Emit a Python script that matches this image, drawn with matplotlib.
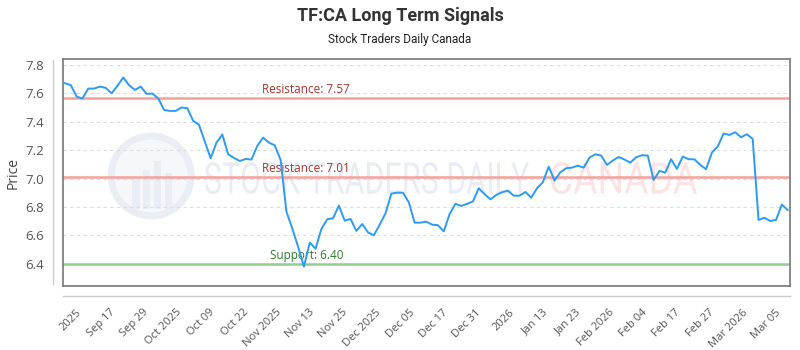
import matplotlib.pyplot as plt
import numpy as np
from matplotlib.lines import Line2D
from matplotlib.patches import Ellipse, Rectangle, PathPatch
from matplotlib.textpath import TextPath
from matplotlib.font_manager import FontProperties
from matplotlib.transforms import Affine2D

prices = [7.671, 7.657, 7.577, 7.563, 7.633, 7.633, 7.647, 7.638, 7.600, 7.652,
          7.711, 7.657, 7.624, 7.647, 7.596, 7.598, 7.565, 7.483, 7.476, 7.476,
          7.500, 7.495, 7.406, 7.378, 7.260, 7.143, 7.253, 7.310, 7.171, 7.145,
          7.124, 7.138, 7.134, 7.230, 7.288, 7.253, 7.234, 7.131, 6.768, 6.650,
          6.521, 6.381, 6.550, 6.507, 6.646, 6.714, 6.721, 6.810, 6.704, 6.716,
          6.632, 6.681, 6.622, 6.601, 6.676, 6.756, 6.894, 6.901, 6.901, 6.833,
          6.690, 6.690, 6.697, 6.676, 6.672, 6.629, 6.751, 6.822, 6.808, 6.822,
          6.840, 6.932, 6.890, 6.854, 6.885, 6.904, 6.915, 6.880, 6.880, 6.906,
          6.866, 6.932, 6.975, 7.084, 6.986, 7.044, 7.073, 7.077, 7.091, 7.077,
          7.148, 7.171, 7.162, 7.096, 7.127, 7.152, 7.134, 7.112, 7.150, 7.164,
          7.162, 6.990, 7.054, 7.042, 7.136, 7.068, 7.155, 7.136, 7.136, 7.096,
          7.066, 7.183, 7.225, 7.317, 7.307, 7.326, 7.291, 7.312, 7.279, 6.709,
          6.725, 6.702, 6.709, 6.817, 6.779]

tick_labels = ['2025', 'Sep 17', 'Sep 29', 'Oct 2025', 'Oct 09', 'Oct 22',
               'Nov 2025', 'Nov 13', 'Nov 25', 'Dec 2025', 'Dec 05', 'Dec 17',
               'Dec 31', '2026', 'Jan 13', 'Jan 23', 'Feb 2026', 'Feb 04',
               'Feb 17', 'Feb 27', 'Mar 2026', 'Mar 05']
tick_pos = np.linspace(2.6, 122.5, len(tick_labels))

resistance = [7.57, 7.01]
support = 6.40

plt.rcParams['font.family'] = ['Open Sans', 'DejaVu Sans']

fig = plt.figure(figsize=(8, 3.5), dpi=100)
ax = fig.add_axes([0.079, 0.183, 0.9085, 0.648])

x = np.arange(len(prices))


def squeezed_text(s, x0, x1, y0, y1, color):
    # text drawn as a path and stretched to fit a pixel box (condensed look)
    tp = TextPath((0, 0), s, size=40, prop=FontProperties(family='Roboto'))
    ext = tp.get_extents()
    sx = (x1 - x0) / ext.width
    sy = (y1 - y0) / ext.height
    tr = Affine2D().translate(-ext.x0, -ext.y0).scale(sx, sy).translate(x0, 350 - y1)
    ax.add_patch(PathPatch(tp, transform=tr, facecolor=color, edgecolor='none', zorder=0))


# faint watermark: logo circle + text
aw, ah = 727.0, 227.0
ax.add_patch(Ellipse((0.121, 0.485), 2 * 40 / aw, 2 * 40 / ah, transform=ax.transAxes,
                     facecolor='#f5f7fb', edgecolor='#e9edf4', lw=5, zorder=0))
for bx, bh in [(0.1, 0.13), (0.115, 0.17), (0.13, 0.21), (0.145, 0.16)]:
    ax.add_patch(Rectangle((bx - 0.005, 0.34), 0.01, bh, transform=ax.transAxes,
                           facecolor='#e9edf4', edgecolor='none', zorder=0))
squeezed_text('STOCK TRADERS DAILY', 205, 529, 162, 194, '#e9edf3')
squeezed_text('CANADA', 551, 697, 162, 194, '#fde4e4')

for r in resistance:
    ax.axhline(r, color='#f4a19b', lw=1.8, zorder=2)
    ax.text(33.8, r + 0.012, 'Resistance: %.2f' % r, color='#a8352c', fontsize=8.5,
            ha='left', va='bottom', zorder=3)
ax.axhline(support, color='#8fcf8f', lw=1.8, zorder=2)
ax.text(35.2, support + 0.012, 'Support: %.2f' % support, color='#2f7a2f',
        fontsize=8.5, ha='left', va='bottom', zorder=3)

ax.plot(x, prices, color='#2b9bf4', lw=1.4, zorder=4)

yt = [6.4, 6.6, 6.8, 7.0, 7.2, 7.4, 7.6, 7.8]
ax.set_xlim(-0.3, 124.4)
ax.set_ylim(6.245, 7.84)
ax.set_yticks(yt)
ax.set_yticklabels(['%.1f' % v for v in yt])
ax.set_xticks(tick_pos)
ax.set_xticklabels(tick_labels, rotation=45, ha='right', va='center',
                   rotation_mode='anchor')
ax.grid(axis='y', color='#dddddd', ls=(0, (3, 3)), lw=0.8)
ax.tick_params(axis='y', length=0, pad=14, labelsize=9.5, labelcolor='#555555')
ax.tick_params(axis='x', length=0, pad=18, labelsize=8, labelcolor='#555555')
for s in ax.spines.values():
    s.set_color('#777777')
    s.set_linewidth(1.2)
ax.set_ylabel('Price', fontsize=10, color='#444444', labelpad=3)

fig.add_artist(Line2D([53 / 800, 53 / 800], [1 - 60 / 350, 1 - 284 / 350],
                      color='#cccccc', lw=1))
fig.add_artist(Line2D([63 / 800, 790 / 800], [1 - 296 / 350, 1 - 296 / 350],
                      color='#cccccc', lw=1))

fig.text(0.5, 1 - 16 / 350, 'TF:CA Long Term Signals', ha='center', va='center',
         fontsize=13, fontweight='bold', color='#333333', family='Roboto')
fig.text(0.5, 1 - 40 / 350, 'Stock Traders Daily Canada', ha='center',
         va='center', fontsize=8.5, color='#222222', family='Roboto')

fig.savefig('out.png', dpi=100)
